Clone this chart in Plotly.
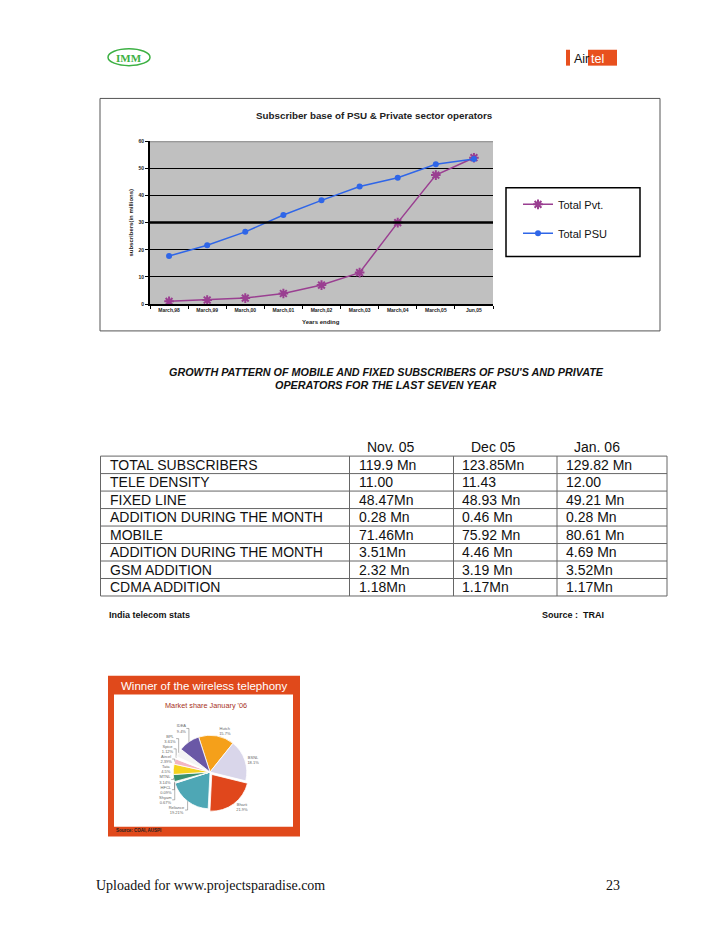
import plotly.graph_objects as go

# ---------------- data ----------------
years = ["March,98", "March,99", "March,00", "March,01", "March,02",
         "March,03", "March,04", "March,05", "Jun,05"]
total_pvt = [1.0, 1.5, 2.2, 3.9, 7.0, 11.6, 30.0, 47.5, 53.9]
total_psu = [17.7, 21.7, 26.6, 32.8, 38.2, 43.3, 46.5, 51.5, 53.4]

table_months = ["Nov. 05", "Dec 05", "Jan. 06"]
table_rows = ["TOTAL SUBSCRIBERS", "TELE DENSITY", "FIXED LINE",
              "ADDITION DURING THE MONTH", "MOBILE",
              "ADDITION DURING THE MONTH", "GSM ADDITION", "CDMA ADDITION"]
nov_05 = ["119.9 Mn", "11.00", "48.47Mn", "0.28 Mn", "71.46Mn", "3.51Mn", "2.32 Mn", "1.18Mn"]
dec_05 = ["123.85Mn", "11.43", "48.93 Mn", "0.46 Mn", "75.92 Mn", "4.46 Mn", "3.19 Mn", "1.17Mn"]
jan_06 = ["129.82 Mn", "12.00", "49.21 Mn", "0.28 Mn", "80.61 Mn", "4.69 Mn", "3.52Mn", "1.17Mn"]

pie_labels = ["Hutch", "BSNL", "Bharti", "Reliance", "Shyam", "HFCL",
              "MTNL", "Tata", "Aircel", "Spice", "BPL", "IDEA"]
pie_values = [15.7, 18.1, 21.9, 19.21, 0.67, 0.09, 3.14, 4.5, 2.39, 1.12, 3.61, 9.4]
pie_colors = ["#f5a01a", "#d9d6ea", "#e0471c", "#4ea7b5", "#eeeeee", "#bbbbbb",
              "#3a9070", "#f5d21e", "#f3b6c4", "#ffffff", "#f4f4f4", "#6a58a6"]

# page is 728x942; the html body adds an 8px margin, so the figure is 712x926
OFF = 8
W, H = 728 - 2 * OFF, 942 - 2 * OFF
def px(x): return (x - OFF) / W
def py(y): return 1 - (y - OFF) / H

fig = go.Figure()

# ---------------- line chart ----------------
fig.add_trace(go.Scatter(
    x=years, y=total_pvt, name="Total Pvt.", mode="lines+markers",
    legendgroup="a",
    line=dict(color="#9a3f91", width=1.5),
    marker=dict(symbol="asterisk-open", size=8, color="#9a3f91",
                line=dict(color="#9a3f91", width=2)),
    xaxis="x", yaxis="y"))
fig.add_trace(go.Scatter(
    x=years, y=total_psu, name="Total PSU", mode="lines+markers",
    legendgroup="b",
    line=dict(color="#2f66e8", width=1.5),
    marker=dict(symbol="circle", size=6, color="#2f66e8"),
    xaxis="x", yaxis="y"))

# ---------------- pie inset ----------------
fig.add_trace(go.Pie(
    labels=pie_labels, values=pie_values, sort=False, direction="clockwise",
    rotation=-18, showlegend=False,
    marker=dict(colors=pie_colors, line=dict(color="white", width=0.8)),
    pull=[0, 0, 0.08, 0, 0, 0, 0, 0, 0, 0, 0, 0],
    textposition="outside", texttemplate="%{label}<br>%{value}%",
    textfont=dict(size=4, color="#666", family="Liberation Sans"),
    domain=dict(x=[px(170), px(250)], y=[py(814), py(734)])))

shapes = []
annotations = []

def ann(text, x, y, size, color="#111", family="Liberation Sans", xanchor="center", **kw):
    annotations.append(dict(text=text, x=px(x), y=py(y), xref="paper", yref="paper",
                            xanchor=xanchor, yanchor="middle", showarrow=False,
                            font=dict(size=size, family=family, color=color), **kw))

# chart frame
shapes.append(dict(type="rect", xref="paper", yref="paper",
                   x0=px(100), x1=px(660), y0=py(330), y1=py(96),
                   line=dict(color="#555", width=1), layer="below"))
# emphasised gridline and top border
shapes.append(dict(type="line", xref="x domain", yref="y", x0=0, x1=1, y0=30, y1=30,
                   line=dict(color="black", width=2.5)))
shapes.append(dict(type="line", xref="x domain", yref="y", x0=0, x1=1, y0=60, y1=60,
                   line=dict(color="#888", width=2)))
# legend box
shapes.append(dict(type="rect", xref="paper", yref="paper",
                   x0=px(506), x1=px(640), y0=py(255), y1=py(186),
                   line=dict(color="black", width=1.5), fillcolor="white", layer="below"))

ann("<b>Subscriber base of PSU & Private sector operators</b>", 374, 113, 9.8, "#222")
ann("<b>subscribers(in millions)</b>", 131, 221, 6, "#222", textangle=-90)
ann("<b>Years ending</b>", 321, 321, 6, "#222")

# caption
ann("<b><i>GROWTH PATTERN OF MOBILE AND FIXED SUBSCRIBERS OF PSU'S AND PRIVATE</i></b>",
    386, 371, 10.8)
ann("<b><i>OPERATORS FOR THE LAST SEVEN YEAR</i></b>", 386, 384, 10.8)

# ---------------- table ----------------
col_edges = [100.5, 349.5, 453.5, 557, 667]
row_top = 456
row_h = 17.6
n = len(table_rows)
for i in range(n + 1):
    yy = row_top + i * row_h
    shapes.append(dict(type="line", xref="paper", yref="paper",
                       x0=px(col_edges[0]), x1=px(col_edges[-1]), y0=py(yy), y1=py(yy),
                       line=dict(color="#666", width=1)))
for xx in col_edges:
    shapes.append(dict(type="line", xref="paper", yref="paper",
                       x0=px(xx), x1=px(xx), y0=py(row_top), y1=py(row_top + n * row_h),
                       line=dict(color="#666", width=1)))
for j, m in enumerate(table_months):
    ann(m, col_edges[j + 1] + 15, 447, 14, xanchor="left")
cols = [nov_05, dec_05, jan_06]
for i, lab in enumerate(table_rows):
    yc = row_top + (i + 0.5) * row_h
    ann(lab, 108, yc, 14, xanchor="left")
    for j, c in enumerate(cols):
        ann(c[i], col_edges[j + 1] + 7, yc, 14, xanchor="left")
ann("<b>India telecom stats</b>", 107, 616, 9, xanchor="left")
ann("<b>Source :  TRAI</b>", 540, 616, 9, xanchor="left")

# ---------------- inset frame ----------------
shapes.append(dict(type="rect", xref="paper", yref="paper",
                   x0=px(108), x1=px(300), y0=py(839), y1=py(677),
                   fillcolor="#e0491b", line=dict(width=0), layer="below"))
shapes.append(dict(type="rect", xref="paper", yref="paper",
                   x0=px(114), x1=px(293), y0=py(829), y1=py(696),
                   fillcolor="white", line=dict(width=0), layer="below"))
ann("Winner of the wireless telephony", 119, 687, 11.5, "white", xanchor="left")
ann("Market share January '06", 206, 707, 7.3, "#a8321c")
ann("<b>Source: COAI, AUSPI</b>", 114, 833, 4.5, "#222", xanchor="left")

# ---------------- logos ----------------
shapes.append(dict(type="circle", xref="paper", yref="paper",
                   x0=px(108), x1=px(150), y0=py(63), y1=py(46),
                   line=dict(color="#3cb043", width=1.5)))
ann("<b>IMM</b>", 129, 55, 11, "#3cb043", family="Liberation Serif")
shapes.append(dict(type="rect", xref="paper", yref="paper",
                   x0=px(566), x1=px(570), y0=py(63), y1=py(47),
                   fillcolor="#e8501e", line=dict(width=0)))
shapes.append(dict(type="rect", xref="paper", yref="paper",
                   x0=px(588), x1=px(617), y0=py(63), y1=py(47),
                   fillcolor="#e8501e", line=dict(width=0)))
ann("Air", 572, 56, 12.5, "#111", xanchor="left")
ann("tel", 589, 56, 12.5, "white", xanchor="left")

# ---------------- footer ----------------
ann("Uploaded for www.projectsparadise.com", 94, 888, 14, family="Liberation Serif", xanchor="left")
ann("23", 604, 888, 14, family="Liberation Serif", xanchor="left")

fig.update_layout(
    width=W, height=H, margin=dict(l=0, r=0, t=0, b=0),
    paper_bgcolor="white", plot_bgcolor="#c0c0c0",
    xaxis=dict(domain=[px(150), px(493)], anchor="y", type="category",
               range=[-0.5, 8.5], showgrid=False, showline=True, linecolor="black",
               linewidth=1.5, ticks="outside", tickson="boundaries", ticklen=3,
               tickcolor="black",
               tickfont=dict(size=5, family="Liberation Sans", color="#222", weight="bold"),
               fixedrange=True),
    yaxis=dict(domain=[py(303), py(139)], anchor="x", range=[0, 60], dtick=10,
               gridcolor="black", gridwidth=1, showline=True, linecolor="black",
               linewidth=2, ticks="outside", ticklen=3, tickcolor="black", zeroline=False,
               tickfont=dict(size=5, family="Liberation Sans", color="#222", weight="bold"),
               fixedrange=True),
    legend=dict(x=px(518), y=py(188), xanchor="left", yanchor="top",
                bgcolor="rgba(0,0,0,0)", borderwidth=0, tracegroupgap=10,
                font=dict(size=11, family="Liberation Sans", color="#111")),
    shapes=shapes, annotations=annotations,
)

fig.write_html("out.html")
